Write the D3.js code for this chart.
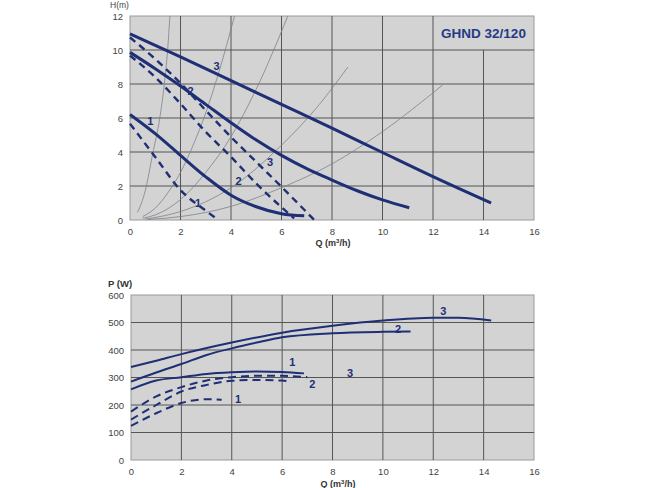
<!DOCTYPE html>
<html><head><meta charset="utf-8">
<script src="https://cdn.jsdelivr.net/npm/d3@7"></script>
<style>
body{margin:0;background:#fff;}
text{font-family:"Liberation Sans",Arial,sans-serif;}
</style></head>
<body><svg id="c" width="650" height="488"></svg>
<script>
// ---------- DATA ----------
const qTicks = [0,2,4,6,8,10,12,14,16];
const hTicks = [0,2,4,6,8,10,12];
const pTicks = [0,100,200,300,400,500,600];
const title = "GHND 32/120";

// H(Q) pump curves: solid = max, dashed = min, speeds 1..3
const hSolid3 = [[0,10.95],[2,9.6],[4,8.2],[6,6.8],[8,5.4],[10,3.97],[12,2.55],[14.3,1.0]];
const hSolid2 = [[0,9.86],[1,8.9],[2,7.88],[3,6.8],[4,5.72],[5,4.7],[6,3.8],[7,3.02],[8,2.35],[9,1.72],[10,1.18],[11.06,0.72]];
const hSolid1 = [[0,6.21],[1,5.08],[2,3.8],[3,2.54],[4,1.46],[5,0.78],[6,0.37],[6.9,0.25]];
const hDash3 = [[0,10.74],[1,9.47],[2,8.05],[3,6.45],[4,4.88],[5,3.42],[6,1.95],[7.3,0.0]];
const hDash2 = [[0,9.67],[1,8.4],[2,6.84],[3,5.18],[4,3.71],[5,2.15],[6,0.75],[6.5,0.1]];
const hDash1 = [[0,5.66],[1,3.71],[2,1.76],[3,0.55],[3.5,0.0]];

// System (resistance) curves, thin grey
const sysA = [[0.3,0.45],[0.6,1.7],[0.9,3.9],[1.18,6.0],[1.36,8.0],[1.49,10.0],[1.58,12]];
const sysB = [[0.5,0.2],[1,0.7],[1.5,1.6],[2,2.8],[2.5,4.4],[3,6.3],[3.5,8.6],[4.14,12]];
const sysC = [[0.5,0.1],[1,0.3],[2,1.2],[3,2.8],[4,4.9],[5,7.7],[6.25,12]];
const sysD = [[0.6,0.05],[2,0.5],[4,1.9],[6,4.4],[7.5,6.8],[8.63,9.0]];
const sysE = [[0.7,0.03],[2,0.2],[4,0.8],[6,1.9],[8,3.3],[10,5.2],[12.38,7.94]];

// P(Q) power curves
const pSolid3 = [[0,338],[1,361],[2,385],[4,427],[6,463],[8,488],[10,507],[12,517],[13,517],[14.3,507]];
const pSolid2 = [[0,285],[1,318],[2,349],[3,382],[4,406],[5,427],[6,446],[8,461],[10,466],[11.1,467]];
const pSolid1 = [[0,257],[1,289],[2,301],[3,313],[4,319],[5,322],[6,320],[6.87,315]];
const pDash3 = [[0,176],[1,231],[2,265],[3,289],[4,301],[5,306],[6,306],[7.0,301]];
const pDash2 = [[0,147],[1,200],[2,249],[3,273],[4,288],[5,291],[6,289],[6.27,285]];
const pDash1 = [[0,124],[1,170],[2,207],[3,221],[3.6,219]];

// curve labels [text, Q, value]
const hLabels = [["3",3.43,9.06],["2",2.4,7.6],["1",0.8,5.8],["3",5.55,3.4],["2",4.3,2.3],["1",2.7,1.0]];
const pLabels = [["3",12.4,540],["2",10.6,475],["1",6.4,355],["2",7.2,275],["3",8.7,315],["1",4.25,220]];

// ---------- DRAW ----------
const svg = d3.select("#c");
const navy = "#1e2f75";
const gridC = "#555555";
const bg = "#d3d3d3";

function panel(cfg){
  const x = d3.scaleLinear().domain([0,16]).range([cfg.x0, cfg.x1]);
  const y = d3.scaleLinear().domain(cfg.ydom).range([cfg.y0, cfg.y1]);
  const g = svg.append("g");
  g.append("rect").attr("x",cfg.x0).attr("y",cfg.y1).attr("width",cfg.x1-cfg.x0).attr("height",cfg.y0-cfg.y1)
    .attr("fill",bg).attr("stroke","#9a9a9a").attr("stroke-width",1);
  cfg.xt.filter(v=>v>0 && v<16).forEach(v=>{
    let t = cfg.ydom[1];
    if(cfg.box && v>cfg.box.q0) t = cfg.box.v0;
    g.append("line").attr("x1",x(v)).attr("x2",x(v)).attr("y1",y(0)).attr("y2",y(t))
      .attr("stroke",gridC).attr("stroke-width",1);
  });
  cfg.yt.filter(v=>v>0 && v<cfg.ydom[1]).forEach(v=>{
    g.append("line").attr("x1",x(0)).attr("x2",x(16)).attr("y1",y(v)).attr("y2",y(v))
      .attr("stroke",gridC).attr("stroke-width",1);
  });
  const ax = g.append("g").attr("transform",`translate(0,${cfg.y0})`)
    .call(d3.axisBottom(x).tickValues(cfg.xt).tickSize(0).tickPadding(8));
  const ay = g.append("g").attr("transform",`translate(${cfg.x0},0)`)
    .call(d3.axisLeft(y).tickValues(cfg.yt).tickSize(0).tickPadding(7));
  [ax,ay].forEach(a=>{a.select(".domain").remove();
    a.selectAll("text").attr("fill","#444").style("font-size","9.5px").style("font-family","Liberation Sans, Arial, sans-serif");});
  return {x,y,g};
}

const pTop = panel({x0:130,x1:534,y0:220,y1:16,ydom:[0,12],xt:qTicks,yt:hTicks,box:{q0:12,v0:10}});
const pBot = panel({x0:131,x1:534,y0:460,y1:295,ydom:[0,600],xt:qTicks,yt:pTicks});

function draw(p, data, w, dash, color){
  const line = d3.line().x(d=>p.x(d[0])).y(d=>p.y(d[1])).curve(d3.curveMonotoneX);
  p.g.append("path").attr("d",line(data)).attr("fill","none").attr("stroke",color||navy)
    .attr("stroke-width",w).attr("stroke-dasharray",dash||null).attr("stroke-linecap","butt");
}
[sysA,sysB,sysC,sysD,sysE].forEach(s=>draw(pTop,s,0.8,null,"#7f8289"));
[hSolid3,hSolid2,hSolid1].forEach(s=>draw(pTop,s,3));
[hDash3,hDash2,hDash1].forEach(s=>draw(pTop,s,2.4,"7,5"));
[pSolid3,pSolid2,pSolid1].forEach(s=>draw(pBot,s,2));
[pDash3,pDash2,pDash1].forEach(s=>draw(pBot,s,2,"8,5"));

function labels(p, arr){
  p.g.selectAll(null).data(arr).enter().append("text")
    .attr("x",d=>p.x(d[1])).attr("y",d=>p.y(d[2])).attr("text-anchor","middle").attr("dy","0.35em")
    .attr("fill",navy).style("font-size","11px").style("font-weight","bold").text(d=>d[0]);
}
labels(pTop,hLabels);
labels(pBot,pLabels);

svg.append("text").attr("x",pTop.x(14)).attr("y",pTop.y(11)).attr("dy","0.35em").attr("text-anchor","middle")
  .attr("fill","#233a86").style("font-size","13.5px").style("font-weight","bold").text(title);

svg.append("text").attr("x",110).attr("y",8).attr("fill","#444").style("font-size","8.5px").text("H(m)");
function qTitle(cx, cy){
  const t = svg.append("text").attr("x",cx).attr("y",cy).attr("text-anchor","middle").attr("fill","#333")
    .style("font-size","9px").style("font-weight","bold");
  t.append("tspan").text("Q (m");
  t.append("tspan").attr("dy","-3").style("font-size","6px").text("3");
  t.append("tspan").attr("dy","3").text("/h)");
}
qTitle(333,246);
qTitle(338,487);
svg.append("text").attr("x",108).attr("y",287).attr("fill","#333").style("font-size","9.5px").style("font-weight","bold").text("P (W)");
</script></body></html>
